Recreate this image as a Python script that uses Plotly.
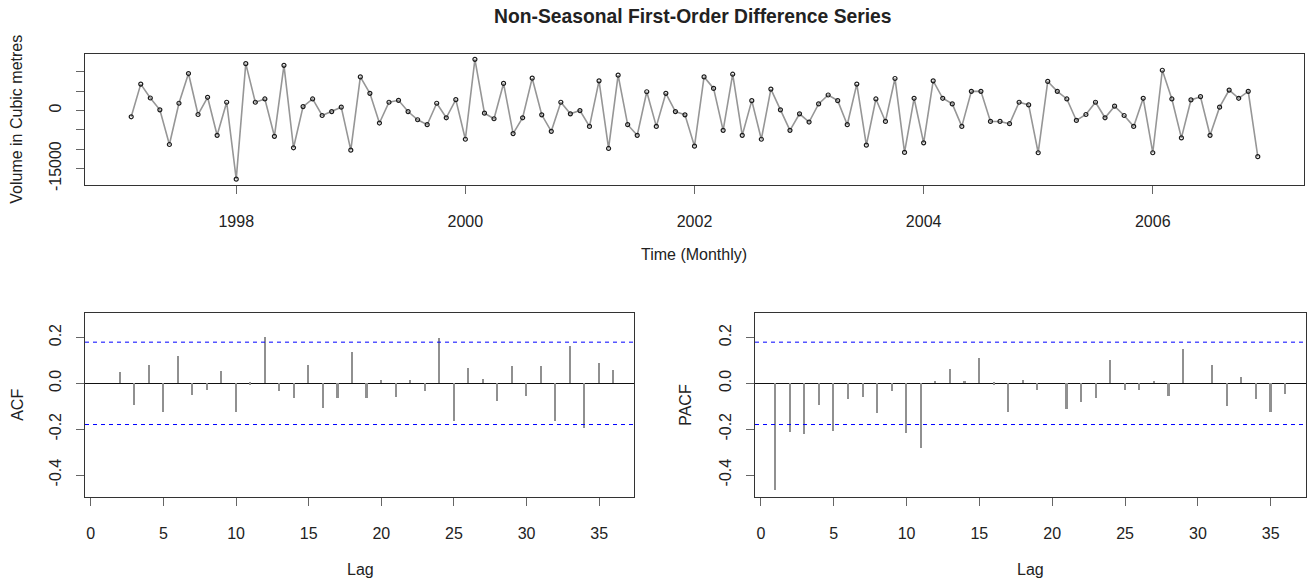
import plotly.graph_objects as go
import math

# ---- data ----
start_year, start_month, freq = 1997, 2, 12
diff_values = [
    -1613, 6835, 3251, 179, -8781, 1894, 9574, -1024, 3430, -6400, 2150,
    -17741, 12134, 2150, 2995, -6656, 11699, -9626, 1024, 2995, -1280, -256, 870,
    -10240, 8704, 4454, -3226, 2150, 2650, -256, -2381, -3661, 1894, -1869, 2816,
    -7424, 13235, -666, -2125, 7014, -5965, -1869, 8371, -1101, -5376, 2150, -845,
    0, -4096, 7680, -9805, 9139, -3661, -6400, 4864, -4096, 4454, -256, -1101,
    -9216, 8704, 5734, -5120, 9395, -6400, 2560, -7424, 5555, 179, -5120, -845,
    -2970, 1715, 4019, 2560, -3661, 6835, -8960, 2995, -2816, 8294, -10829, 3174,
    -8346, 7680, 3174, 1715, -4096, 4966, 4966, -2816, -2816, -3405, 2150, 1459,
    -10906, 7526, 4966, 2995, -2560, -1024, 2150, -1869, 1126, -1280, -4096, 3174,
    -10906, 10419, 2995, -7066, 2739, 3584, -6400, 870, 5299, 3174, 4966, -11930,
]
lags = list(range(1, 37))
acf_values = [0.0, 0.046, -0.095, 0.077, -0.129, 0.117, -0.052, -0.032, 0.050, -0.129,
              -0.007, 0.199, -0.037, -0.066, 0.080, -0.109, -0.066, 0.136, -0.066, 0.014,
              -0.062, 0.014, -0.037, 0.195, -0.165, 0.064, 0.017, -0.080, 0.073, -0.059,
              0.073, -0.165, 0.160, -0.195, 0.089, 0.056]
pacf_values = [-0.466, -0.215, -0.223, -0.095, -0.208, -0.069, -0.062, -0.133, -0.037, -0.219,
               -0.284, 0.010, 0.060, 0.006, 0.107, -0.007, -0.129, 0.014, -0.029, 0.0,
               -0.113, -0.083, -0.066, 0.099, -0.033, -0.033, 0.007, -0.057, 0.149, 0.0,
               0.080, -0.100, 0.027, -0.072, -0.129, -0.047]
year_ticks = [1998, 2000, 2002, 2004, 2006]
ts_ytickvals = [-15000, -10000, -5000, 0, 5000, 10000]
ts_yticktext = ["-15000", "", "", "0", "", ""]
cf_ytickvals = [-0.4, -0.2, 0.0, 0.2]
cf_yticktext = ["-0.4", "-0.2", "0.0", "0.2"]
lag_ticks = [0, 5, 10, 15, 20, 25, 30, 35]

times = [start_year + (start_month - 1 + i) / freq for i in range(len(diff_values))]
ci = 1.96 / math.sqrt(len(diff_values))

W, H = 1311, 585
FONT = "Liberation Sans, Arial, Helvetica, sans-serif"
TXT = "#222222"
BOX = "#333333"

def px_x(a, b):
    return [a / W, b / W]

def px_y(top, bottom):
    return [1 - bottom / H, 1 - top / H]

fig = go.Figure()

fig.add_trace(go.Scatter(
    x=times, y=diff_values, mode="lines+markers",
    line=dict(color="#969696", width=1.6),
    marker=dict(symbol="circle-open", size=4, color="#1a1a1a", line=dict(width=1.2)),
    xaxis="x", yaxis="y", showlegend=False, hoverinfo="x+y"))

fig.add_trace(go.Bar(x=lags, y=acf_values, width=0.11, marker=dict(color="#909090", line=dict(width=0)),
                     xaxis="x2", yaxis="y2", showlegend=False))
fig.add_trace(go.Bar(x=lags, y=pacf_values, width=0.11, marker=dict(color="#909090", line=dict(width=0)),
                     xaxis="x3", yaxis="y3", showlegend=False))

common_axis = dict(showgrid=False, showline=True, mirror=True, linecolor=BOX, linewidth=1,
                   ticks="outside", ticklen=8, tickcolor="#666666", tickwidth=1,
                   tickfont=dict(family=FONT, size=16, color=TXT))

XSTAND, YSTAND = 14, 9

fig.update_layout(
    width=W, height=H, autosize=False,
    margin=dict(l=0, r=0, t=0, b=0),
    paper_bgcolor="white", plot_bgcolor="white",
    bargap=0,
    xaxis=dict(domain=px_x(85, 1304), anchor="y", range=[1996.68, 2007.32],
               tickmode="array", tickvals=year_ticks, zeroline=False,
               ticklabelstandoff=XSTAND, **common_axis),
    yaxis=dict(domain=px_y(55, 186.7), anchor="x", range=[-19195, 14510],
               tickmode="array", tickvals=ts_ytickvals, ticktext=ts_yticktext,
               tickangle=-90, zeroline=False, ticklabelstandoff=YSTAND, **common_axis),
    xaxis2=dict(domain=px_x(85, 634), anchor="y2", range=[-0.4, 37.4],
                tickmode="array", tickvals=lag_ticks, zeroline=False,
                ticklabelstandoff=XSTAND, **common_axis),
    yaxis2=dict(domain=px_y(316.7, 501.7), anchor="x2", range=[-0.494, 0.305],
                tickmode="array", tickvals=cf_ytickvals, ticktext=cf_yticktext,
                tickangle=-90, zeroline=True, zerolinecolor="#111111", zerolinewidth=1,
                ticklabelstandoff=YSTAND, **common_axis),
    xaxis3=dict(domain=px_x(755, 1305.7), anchor="y3", range=[-0.4, 37.4],
                tickmode="array", tickvals=lag_ticks, zeroline=False,
                ticklabelstandoff=XSTAND, **common_axis),
    yaxis3=dict(domain=px_y(316.7, 501.7), anchor="x3", range=[-0.494, 0.305],
                tickmode="array", tickvals=cf_ytickvals, ticktext=cf_yticktext,
                tickangle=-90, zeroline=True, zerolinecolor="#111111", zerolinewidth=1,
                ticklabelstandoff=YSTAND, **common_axis),
)

shapes = []
for ax in ("2", "3"):
    for v in (ci, -ci):
        shapes.append(dict(type="line", xref=f"x{ax} domain", x0=0, x1=1,
                           yref=f"y{ax}", y0=v, y1=v,
                           line=dict(color="#0000ff", width=1, dash="4px,4px")))
fig.update_layout(shapes=shapes)

def ann(text, x, y, size=16, angle=0, bold=False):
    return dict(text=f"<b>{text}</b>" if bold else text, x=x / W, y=1 - y / H,
                xref="paper", yref="paper", showarrow=False, textangle=angle,
                xanchor="center", yanchor="middle",
                font=dict(family=FONT, size=size, color=TXT))

fig.update_layout(annotations=[
    ann("Non-Seasonal First-Order Difference Series", 693, 17, size=19.3, bold=True),
    ann("Volume in Cubic metres", 17, 121, angle=-90),
    ann("Time (Monthly)", 694, 257),
    ann("ACF", 18, 409, angle=-90),
    ann("Lag", 360, 575),
    ann("PACF", 686, 409, angle=-90),
    ann("Lag", 1030, 575),
])

fig.write_html("out.html")
